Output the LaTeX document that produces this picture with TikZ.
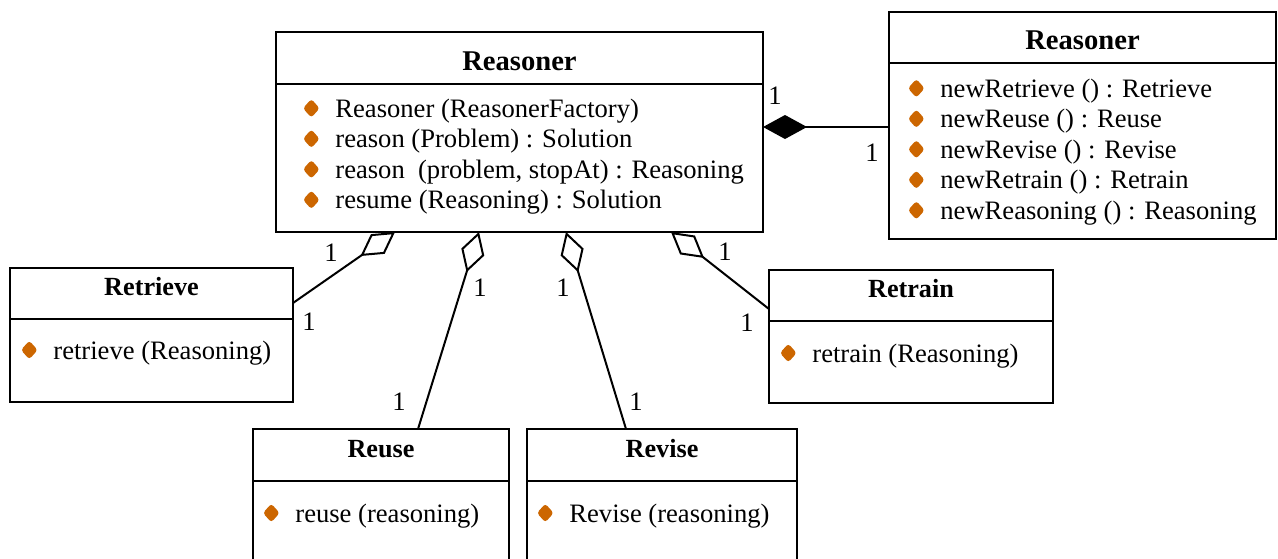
\documentclass[tikz,border=0pt]{standalone}
\usepackage{fontspec}
\setmainfont{Liberation Serif}
\usetikzlibrary{arrows.meta,positioning,calc,shapes.geometric}
\definecolor{opbul}{RGB}{204,102,0}
\newlength{\px}\setlength{\px}{0.5pt}
\tikzset{
  cls/.style={draw,line width=1pt,inner sep=0pt,outer sep=0pt,minimum width=#1},
  hd/.style={cls=#1,anchor=north west,minimum height=51\px,font=\fontsize{13.1}{15}\selectfont\bfseries,text height=5pt,text depth=3pt},
  bighd/.style={hd=#1,font=\fontsize{14.3}{16}\selectfont\bfseries,text height=12.4pt,text depth=0pt},
  bul/.style={diamond,fill=opbul,inner sep=0pt,minimum width=8.5pt,minimum height=9.5pt,rounded corners=1.5pt,label distance=7.4pt},
  op/.style={anchor=west,inner sep=0pt,font=\fontsize{13.3}{15}\selectfont,text height=10pt,text depth=1pt,label={[bul]left:{}}},
  mult/.style={inner sep=0pt,font=\fontsize{13.3}{15}\selectfont},
  agg/.style={{Diamond[open,length=21pt,width=12pt]}-,line width=1pt},
  comp/.style={{Diamond[length=22pt,width=12pt]}-,line width=1pt},
}
\begin{document}
\begin{tikzpicture}[x=1\px,y=-1\px]
 \useasboundingbox (0,0) rectangle (1278,558);
 \clip (0,0) rectangle (1278,558);
 % classes
 \node[bighd=487\px,minimum height=52\px] (rs) at (276,32) {Reasoner};
 \node[cls=487\px,minimum height=148\px,below=0pt of rs] (rs-b) {};
 \node[bighd=387\px] (fac) at (889,12) {Reasoner};
 \node[cls=387\px,minimum height=176\px,below=0pt of fac] (fac-b) {};
 \node[hd=283\px] (rtv) at (10,268) {Retrieve};
 \node[cls=283\px,minimum height=83\px,below=0pt of rtv] (rtv-b) {};
 \node[hd=284\px] (rtn) at (769,270) {Retrain};
 \node[cls=284\px,minimum height=82\px,below=0pt of rtn] (rtn-b) {};
 \node[hd=256\px,minimum height=52\px] (reu) at (253,429) {Reuse};
 \node[cls=256\px,minimum height=100\px,below=0pt of reu] (reu-b) {};
 \node[hd=270\px,minimum height=52\px] (rev) at (527,429) {Revise};
 \node[cls=270\px,minimum height=100\px,below=0pt of rev] (rev-b) {};
 % operations
 \node[op] (rs-1) at (335,108.3) {Reasoner (ReasonerFactory)};
 \node[op] (rs-2) at (335,138.8) {reason (Problem) : Solution};
 \node[op] (rs-3) at (335,169.3) {reason\ \ (problem, stopAt) : Reasoning};
 \node[op] (rs-4) at (335,199.8) {resume (Reasoning) : Solution};
 \node[op] (fac-1) at (940,88.3) {newRetrieve () : Retrieve};
 \node[op] (fac-2) at (940,118.8) {newReuse () : Reuse};
 \node[op] (fac-3) at (940,149.3) {newRevise () : Revise};
 \node[op] (fac-4) at (940,179.8) {newRetrain () : Retrain};
 \node[op] (fac-5) at (940,210.3) {newReasoning () : Reasoning};
 \node[op] (rtv-1) at (53,350) {retrieve (Reasoning)};
 \node[op] (rtn-1) at (812,353) {retrain (Reasoning)};
 \node[op] (reu-1) at (295,513) {reuse (reasoning)};
 \node[op] (rev-1) at (569,513) {Revise (reasoning)};
 % associations
 \coordinate (cj) at ($(rs-b.north east)+(0,43)$);
 \draw[comp] (cj) -- (cj -| fac-b.west);
 \draw[agg] ($(rs-b.south west)+(119,0)$) -- ($(rtv.north east)+(0,35)$);
 \draw[agg] ($(rs-b.south west)+(203,0)$) -- ($(reu.north west)+(165,0)$);
 \draw[agg] ($(rs-b.south west)+(290,0)$) -- ($(rev.north west)+(99,0)$);
 \draw[agg] ($(rs-b.south west)+(395,0)$) -- ($(rtn.north west)+(0,39)$);
 % multiplicities
 \node[mult] (m1) at (775,96) {1};
 \node[mult] (m2) at (872,153) {1};
 \node[mult] (m3) at (331,253) {1};
 \node[mult] (m4) at (309,322) {1};
 \node[mult] (m5) at (480,288) {1};
 \node[mult] (m6) at (399,402) {1};
 \node[mult] (m7) at (563,288) {1};
 \node[mult] (m8) at (636,402) {1};
 \node[mult] (m9) at (725,252) {1};
 \node[mult] (m10) at (747,323) {1};
\end{tikzpicture}
\end{document}
